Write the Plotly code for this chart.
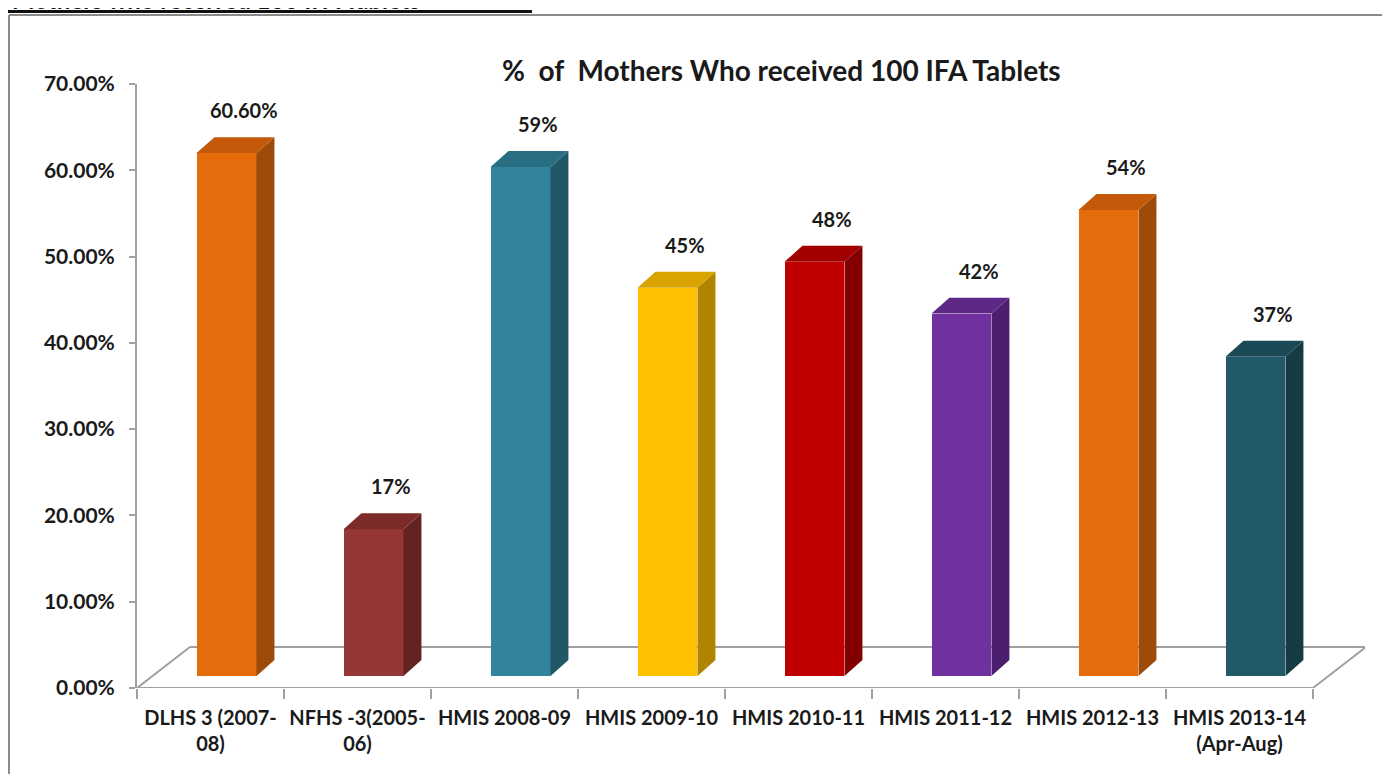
import plotly.graph_objects as go

# ---------------- data ----------------
categories = ["DLHS 3 (2007-<br>08)", "NFHS -3(2005-<br>06)", "HMIS 2008-09", "HMIS 2009-10",
              "HMIS 2010-11", "HMIS 2011-12", "HMIS 2012-13", "HMIS 2013-14<br>(Apr-Aug)"]
values = [60.6, 17, 59, 45, 48, 42, 54, 37]
value_labels = ["60.60%", "17%", "59%", "45%", "48%", "42%", "54%", "37%"]
y_ticks = [0, 10, 20, 30, 40, 50, 60, 70]
y_tick_labels = ["0.00%", "10.00%", "20.00%", "30.00%", "40.00%", "50.00%", "60.00%", "70.00%"]
title_text = "%  of  Mothers Who received 100 IFA Tablets"
heading_text = "Mothers who received 100 IFA Tablets"

front_colors = ["#E46C0A", "#953735", "#31849B", "#FFC000", "#C00000", "#7030A0", "#E46C0A", "#215968"]
side_colors = ["#9E4A08", "#622322", "#215867", "#B08400", "#820000", "#4B1F6D", "#9E4A08", "#153B45"]
top_colors = ["#C45A09", "#7D2B2A", "#296F83", "#D9A300", "#A20000", "#5E2887", "#C45A09", "#1B4A57"]

# ---------------- geometry / style ----------------
BAR_W = 0.408
BAR_SHIFT = 0.109
DEPTH_X = 0.122
DEPTH_Y = 1.85
BASE = 1.39
FLOOR_DX = 0.36
FLOOR_DY = 4.75
X_MIN, X_MAX = -0.5, 7.5 + FLOOR_DX - 0.006
FONT = "Lato"
TXT = "#1a1a1a"
AXIS_COL = "#A0A0A0"

# page is offset by the default 8px body margin
OFF = 8
PAGE_W, PAGE_H = 1390, 774
W, H = PAGE_W - OFF, PAGE_H - OFF
# plot area edges in page pixels
P_LEFT, P_RIGHT, P_TOP, P_BOTTOM = 137, 1365, 84, 688
L, T = P_LEFT - OFF, P_TOP - OFF
R, B = W - (P_RIGHT - OFF), H - (P_BOTTOM - OFF)
PW, PH = P_RIGHT - P_LEFT, P_BOTTOM - P_TOP


def px(x):
    return (x - P_LEFT) / PW


def py(y):
    return (P_BOTTOM - y) / PH


n = len(values)
xc = list(range(n))
xf = [i + BAR_SHIFT for i in xc]

fig = go.Figure()

# front faces
fig.add_trace(go.Bar(x=xf, y=values, base=[BASE] * n, width=BAR_W,
                     marker=dict(color=front_colors, line=dict(width=0)),
                     showlegend=False, hoverinfo="skip"))

# side and top faces
for i, v in enumerate(values):
    xl = xf[i] - BAR_W / 2
    xr = xf[i] + BAR_W / 2
    b = BASE
    t = BASE + v
    fig.add_trace(go.Scatter(
        x=[xr, xr + DEPTH_X, xr + DEPTH_X, xr, xr],
        y=[b, b + DEPTH_Y, t + DEPTH_Y, t, b],
        mode="lines", fill="toself", fillcolor=side_colors[i],
        line=dict(width=0, color=side_colors[i]), showlegend=False, hoverinfo="skip"))
    fig.add_trace(go.Scatter(
        x=[xl, xr, xr + DEPTH_X, xl + DEPTH_X, xl],
        y=[t, t, t + DEPTH_Y, t + DEPTH_Y, t],
        mode="lines", fill="toself", fillcolor=top_colors[i],
        line=dict(width=0, color=top_colors[i]), showlegend=False, hoverinfo="skip"))

# data labels
for i, v in enumerate(values):
    fig.add_annotation(x=xf[i] + DEPTH_X, y=BASE + v + DEPTH_Y, text=value_labels[i],
                       xref="x", yref="y", showarrow=False, yanchor="bottom", yshift=13,
                       font=dict(family=FONT, size=20, color=TXT, weight=700))

# floor (3-D base) as shapes below the bars
floor_lines = [
    (X_MIN, 0, 7.5, 0),
    (X_MIN, 0, X_MIN + FLOOR_DX, FLOOR_DY),
    (X_MIN + FLOOR_DX, FLOOR_DY, 7.5 + FLOOR_DX, FLOOR_DY),
    (7.5, 0, 7.5 + FLOOR_DX, FLOOR_DY),
]
for x0, y0, x1, y1 in floor_lines:
    fig.add_shape(type="line", xref="x", yref="y", x0=x0, y0=y0, x1=x1, y1=y1,
                  line=dict(color=AXIS_COL, width=2), layer="below")

# frame & heading decoration
fig.add_shape(type="line", xref="paper", yref="paper", x0=px(9), y0=py(15), x1=px(1400), y1=py(15),
              line=dict(color="#8a8a8a", width=2))
fig.add_shape(type="line", xref="paper", yref="paper", x0=px(9), y0=py(15), x1=px(9), y1=py(800),
              line=dict(color="#8a8a8a", width=2))
fig.add_shape(type="line", xref="paper", yref="paper", x0=px(0), y0=py(11.5), x1=px(532), y1=py(11.5),
              line=dict(color="#111111", width=3))
fig.add_annotation(xref="paper", yref="paper", x=px(10), y=py(16), text=heading_text,
                   showarrow=False, xanchor="left", yanchor="bottom",
                   font=dict(family=FONT, size=24, color="#111111", weight=700))

# chart title
fig.add_annotation(xref="paper", yref="paper", x=px(781), y=py(70), text=title_text,
                   showarrow=False, xanchor="center", yanchor="middle",
                   font=dict(family=FONT, size=28, color=TXT, weight=700))

fig.update_layout(
    width=W, height=H, autosize=False,
    margin=dict(l=L, r=R, t=T, b=B, pad=0),
    plot_bgcolor="white", paper_bgcolor="white",
    showlegend=False, bargap=0,
    xaxis=dict(range=[X_MIN, X_MAX], tickmode="array", tickvals=xc, ticktext=categories,
               ticks="", showline=False, showgrid=False, zeroline=False,
               ticklabelstandoff=16,
               tickfont=dict(family=FONT, size=20, color=TXT, weight=700),
               minor=dict(tickmode="linear", tick0=-0.5, dtick=1, ticks="outside",
                          ticklen=10, tickcolor=AXIS_COL, tickwidth=1.5, showgrid=False)),
    yaxis=dict(range=[0, 70], tickmode="array", tickvals=y_ticks, ticktext=y_tick_labels,
               ticks="outside", ticklen=6, tickcolor=AXIS_COL, tickwidth=1.5,
               showline=True, linecolor=AXIS_COL, linewidth=2, showgrid=False, zeroline=False,
               ticklabelstandoff=10,
               tickfont=dict(family=FONT, size=21, color=TXT, weight=700)),
)

fig.write_html("out.html")
